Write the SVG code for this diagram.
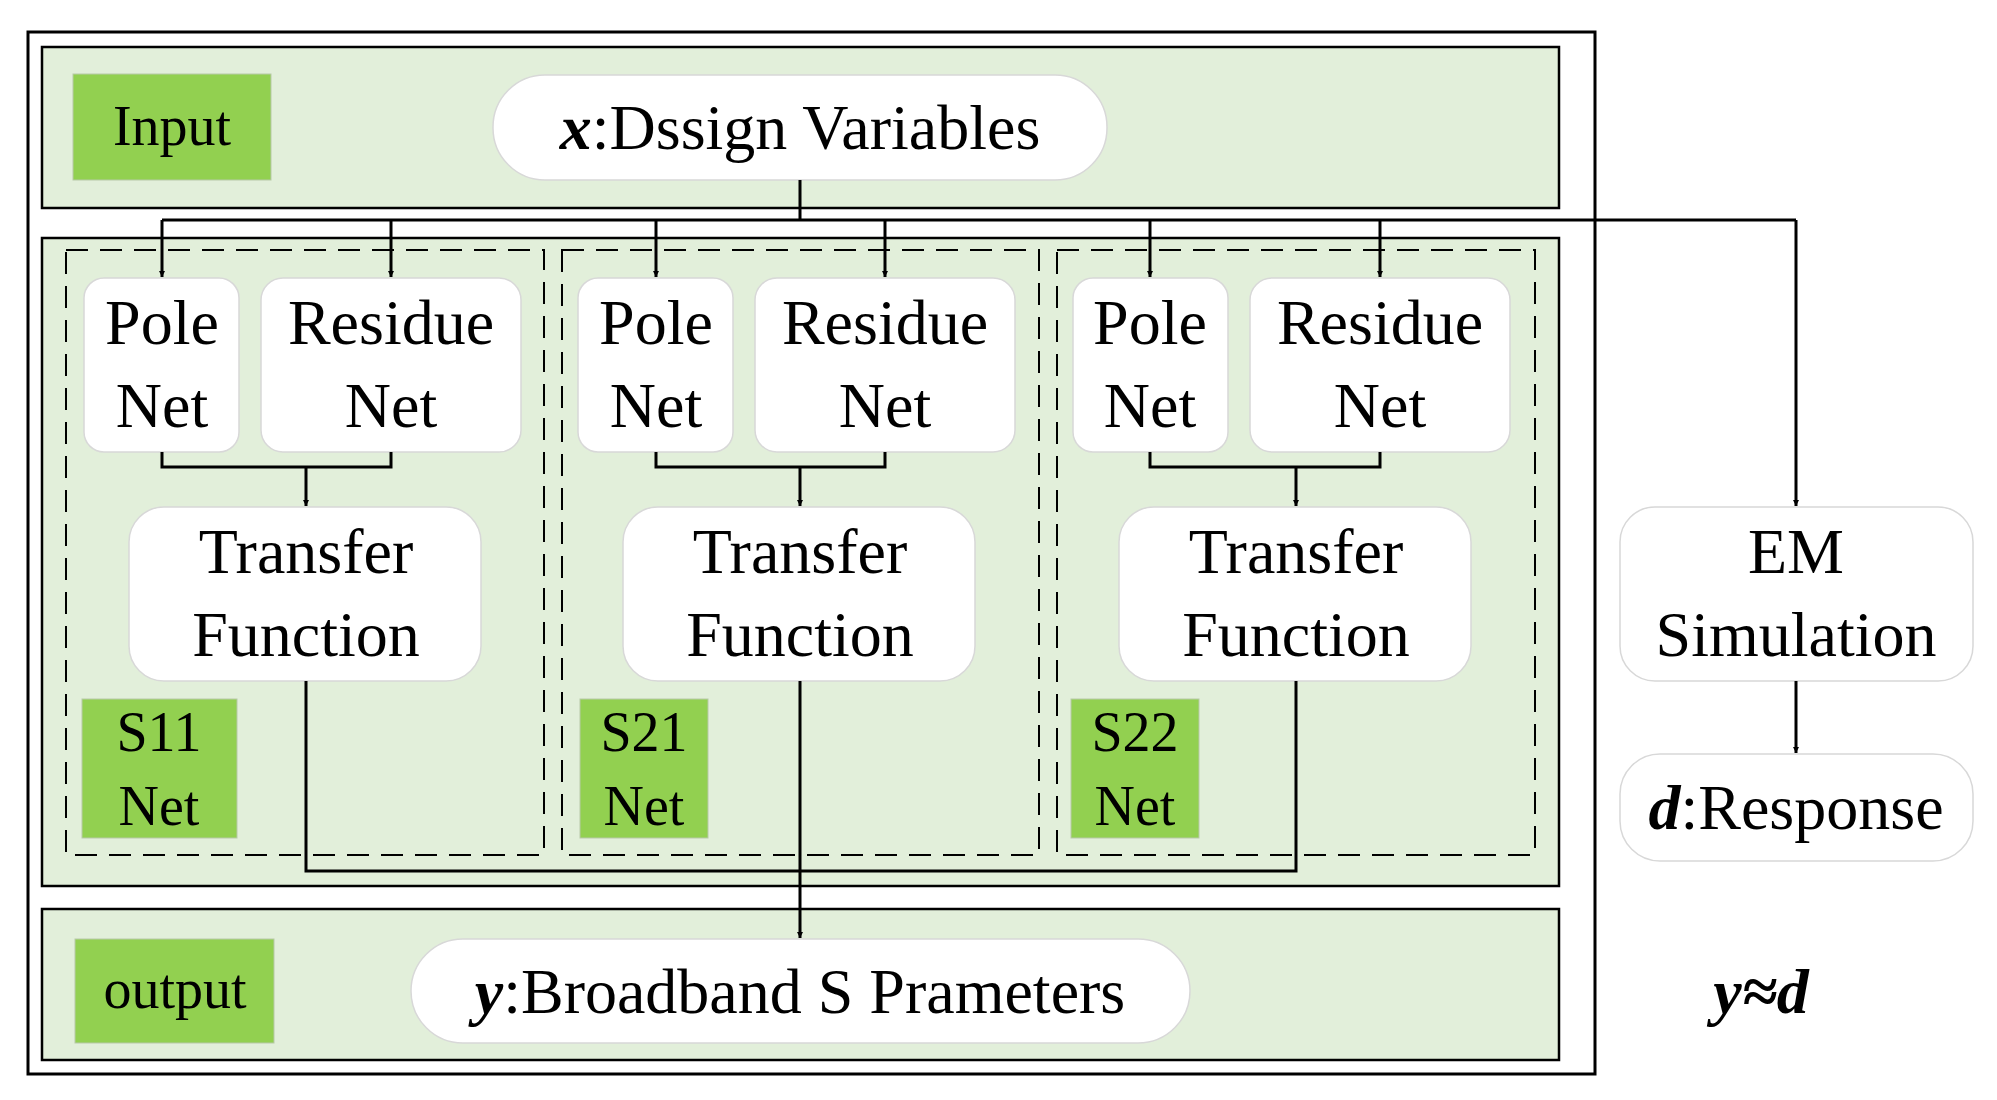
<svg xmlns="http://www.w3.org/2000/svg" width="1997" height="1100" viewBox="0 0 1997 1100">
<defs>
<marker id="ah" viewBox="0 0 10 10" refX="10" refY="5" markerWidth="6" markerHeight="7" markerUnits="userSpaceOnUse" orient="auto"><path d="M0,0 L10,5 L0,10 z" fill="#000"/></marker>
<style>
text{font-family:"Liberation Serif",serif;fill:#000;text-anchor:middle}
.t{font-size:64px}
.s{font-size:56px}
.panel{fill:#e2efda;stroke:#000;stroke-width:2.5}
.lab{fill:#92d050;stroke:#b7c9a8;stroke-width:1}
.node{fill:#fff;stroke:#d8d8d8;stroke-width:1.5}
.dash{fill:none;stroke:#000;stroke-width:2;stroke-dasharray:22,12}
.c{fill:none;stroke:#000;stroke-width:3}
.a{fill:none;stroke:#000;stroke-width:3;marker-end:url(#ah)}
</style>
</defs>
<rect width="1997" height="1100" fill="#fff"/>
<rect x="28" y="32" width="1567" height="1042" fill="none" stroke="#000" stroke-width="3"/>
<rect class="panel" x="42" y="47" width="1517" height="161"/>
<rect class="panel" x="42" y="238" width="1517" height="648"/>
<rect class="panel" x="42" y="909" width="1517" height="151"/>
<rect class="dash" x="66" y="250" width="478" height="605"/>
<rect class="dash" x="562" y="250" width="477" height="605"/>
<rect class="dash" x="1057" y="250" width="478" height="605"/>

<g id="input"><rect class="lab" x="73" y="74" width="198" height="106"/><text class="s" x="172" y="145">Input</text></g>
<g id="design"><rect class="node" x="493" y="75" width="614" height="105" rx="52"/><text class="t" x="800" y="149"><tspan font-style="italic" font-weight="bold">x</tspan>:Dssign Variables</text></g>

<g id="col1">
<g id="pole1"><rect class="node" x="84" y="278" width="155" height="174" rx="20"/><text class="t" x="162" y="344">Pole</text><text class="t" x="162" y="427">Net</text></g>
<g id="res1"><rect class="node" x="261" y="278" width="260" height="174" rx="22"/><text class="t" x="391" y="344">Residue</text><text class="t" x="391" y="427">Net</text></g>
<g id="tf1"><rect class="node" x="129" y="507" width="352" height="174" rx="35"/><text class="t" x="306" y="573">Transfer</text><text class="t" x="306" y="656">Function</text></g>
<g id="s11"><rect class="lab" x="82" y="699" width="155" height="139"/><text class="s" x="159" y="751">S11</text><text class="s" x="159" y="825">Net</text></g>
</g>
<g id="col2">
<g id="pole2"><rect class="node" x="578" y="278" width="155" height="174" rx="20"/><text class="t" x="656" y="344">Pole</text><text class="t" x="656" y="427">Net</text></g>
<g id="res2"><rect class="node" x="755" y="278" width="260" height="174" rx="22"/><text class="t" x="885" y="344">Residue</text><text class="t" x="885" y="427">Net</text></g>
<g id="tf2"><rect class="node" x="623" y="507" width="352" height="174" rx="35"/><text class="t" x="800" y="573">Transfer</text><text class="t" x="800" y="656">Function</text></g>
<g id="s21"><rect class="lab" x="580" y="699" width="128" height="139"/><text class="s" x="644" y="751">S21</text><text class="s" x="644" y="825">Net</text></g>
</g>
<g id="col3">
<g id="pole3"><rect class="node" x="1073" y="278" width="155" height="174" rx="20"/><text class="t" x="1150" y="344">Pole</text><text class="t" x="1150" y="427">Net</text></g>
<g id="res3"><rect class="node" x="1250" y="278" width="260" height="174" rx="22"/><text class="t" x="1380" y="344">Residue</text><text class="t" x="1380" y="427">Net</text></g>
<g id="tf3"><rect class="node" x="1119" y="507" width="352" height="174" rx="35"/><text class="t" x="1296" y="573">Transfer</text><text class="t" x="1296" y="656">Function</text></g>
<g id="s22"><rect class="lab" x="1071" y="699" width="128" height="139"/><text class="s" x="1135" y="751">S22</text><text class="s" x="1135" y="825">Net</text></g>
</g>

<g id="output"><rect class="lab" x="75" y="939" width="199" height="104"/><text class="s" x="175" y="1008">output</text></g>
<g id="yparams"><rect class="node" x="411" y="939" width="779" height="104" rx="52"/><text class="t" x="800" y="1013"><tspan font-style="italic" font-weight="bold">y</tspan>:Broadband S Prameters</text></g>
<g id="em"><rect class="node" x="1620" y="507" width="353" height="174" rx="35"/><text class="t" x="1796" y="573">EM</text><text class="t" x="1796" y="656">Simulation</text></g>
<g id="resp"><rect class="node" x="1620" y="754" width="353" height="107" rx="40"/><text class="t" x="1796" y="829"><tspan font-style="italic" font-weight="bold">d</tspan>:Response</text></g>
<g id="approx"><text class="t" x="1761" y="1013" font-style="italic" font-weight="bold">y≈d</text></g>

<g id="connectors">
<path class="c" d="M800,180 V220 M162,220 H1796"/>
<path class="a" d="M162,220 V277"/><path class="a" d="M391,220 V277"/>
<path class="a" d="M656,220 V277"/><path class="a" d="M885,220 V277"/>
<path class="a" d="M1150,220 V277"/><path class="a" d="M1380,220 V277"/>
<path class="a" d="M1796,220 V506"/>
<path class="c" d="M162,452 V467 H391 V452"/><path class="a" d="M306,467 V506"/>
<path class="c" d="M656,452 V467 H885 V452"/><path class="a" d="M800,467 V506"/>
<path class="c" d="M1150,452 V467 H1380 V452"/><path class="a" d="M1296,467 V506"/>
<path class="c" d="M306,681 V871 H1296 V681"/>
<path class="a" d="M800,681 V938"/>
<path class="a" d="M1796,681 V753"/>
</g>
</svg>
